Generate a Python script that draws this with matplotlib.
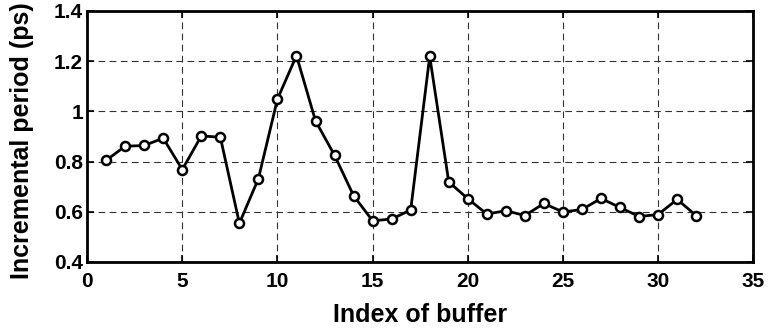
import matplotlib
matplotlib.use("Agg")
import matplotlib.pyplot as plt
from matplotlib.ticker import FuncFormatter

# incremental period per buffer index
buffer_idx = list(range(1, 33))
period_ps = [0.805, 0.861, 0.864, 0.893, 0.768, 0.902, 0.897, 0.554,
             0.732, 1.049, 1.222, 0.962, 0.825, 0.664, 0.564, 0.571,
             0.607, 1.219, 0.719, 0.652, 0.591, 0.604, 0.585, 0.633,
             0.599, 0.609, 0.653, 0.617, 0.581, 0.589, 0.649, 0.585]

plt.rcParams['font.family'] = ['Liberation Sans', 'DejaVu Sans']
plt.rcParams['font.weight'] = 'bold'

fig = plt.figure(figsize=(7.71, 3.32), dpi=100)
ax = fig.add_axes([0.113, 0.211, 0.864, 0.756])

ax.plot(buffer_idx, period_ps, color='black', linewidth=2, marker='o',
        markersize=6.5, markerfacecolor='white', markeredgecolor='black',
        markeredgewidth=1.8, zorder=3)

ax.set_xlim(0, 35)
ax.set_ylim(0.4, 1.4)
ax.set_xticks(range(0, 36, 5))
ax.set_yticks([0.4, 0.6, 0.8, 1.0, 1.2, 1.4])
ax.yaxis.set_major_formatter(FuncFormatter(lambda v, p: '%g' % v))

ax.grid(True, color='#333333', linestyle=(0, (6, 4)), linewidth=0.8)
ax.tick_params(direction='in', length=5, width=1.2, labelsize=15,
               top=True, right=True)
ax.tick_params(axis='x', pad=7)
ax.tick_params(axis='y', pad=3)
for s in ax.spines.values():
    s.set_linewidth(2)

ax.set_xlabel('Index of buffer', fontsize=18, fontweight='bold')
ax.set_ylabel('Incremental period (ps)', fontsize=18, fontweight='bold')
ax.xaxis.set_label_coords(0.5, -0.165)
ax.yaxis.set_label_coords(-0.08, 0.482)

fig.savefig('out.png', dpi=100)
